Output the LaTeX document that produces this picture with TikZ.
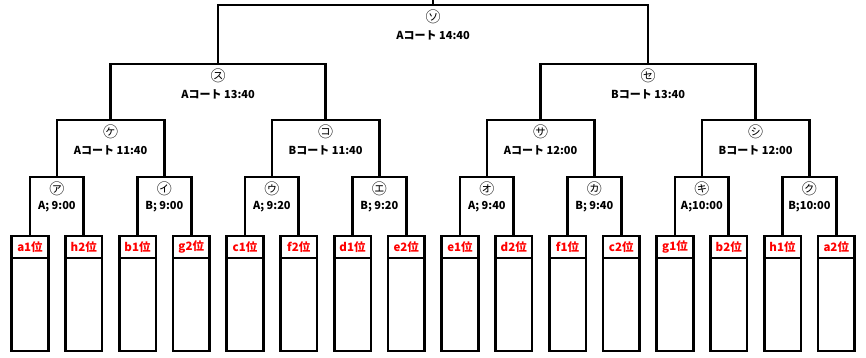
\documentclass[tikz,border=0pt]{standalone}
\usepackage{fontspec}
\setmainfont{Noto Sans CJK JP}
\begin{document}
\begin{tikzpicture}[x=1pt,y=-1pt,
  ln/.style={line width=2.6pt},
  box/.style={draw, line width=2.6pt, minimum width=36.6pt, minimum height=115pt, inner sep=0pt, outer sep=0pt, anchor=north},
  sep/.style={line width=1.8pt},
  rank/.style={font=\bfseries\fontsize{11.5}{11.5}\selectfont, text=red, inner sep=0pt},
  circ/.style={font=\fontsize{15}{15}\selectfont, inner sep=0pt},
  tm/.style={font=\bfseries\fontsize{11}{11}\selectfont, inner sep=0pt}]
\useasboundingbox (0,0) rectangle (866,358);
% boxes
\foreach \t [count=\i from 0] in {a1位,h2位,b1位,g2位,c1位,f2位,d1位,e2位,e1位,d2位,f1位,c2位,g1位,b2位,h1位,a2位} {
  \node[box] (b\i) at ({30+53.75*\i},236) {};
  \path (b\i.north) ++(0,11) node[rank] (h\i) {\t};
  \draw[sep] ([yshift=-22pt]b\i.north west) -- ([yshift=-22pt]b\i.north east);
}
% level 1
\foreach \c/\tm [count=\k from 0, evaluate=\k as \a using int(2*\k), evaluate=\k as \b using int(2*\k+1)] in {㋐/A; 9:00,㋑/B; 9:00,㋒/A; 9:20,㋓/B; 9:20,㋔/A; 9:40,㋕/B; 9:40,㋖/A;10:00,㋗/B;10:00} {
  \coordinate (p\k) at ({56.875+107.5*\k},177);
  \draw[ln] (b\a.north) |- (p\k) -| (b\b.north);
  \path (p\k) ++(0,11.5) node[circ] (cp\k) {\c};
  \path (p\k) ++(0,30) node[tm] (tp\k) {\tm};
}
% level 2
\foreach \c/\tm [count=\k from 0, evaluate=\k as \a using int(2*\k), evaluate=\k as \b using int(2*\k+1)] in {㋘/Aコート 11:40,㋙/Bコート 11:40,㋚/Aコート 12:00,㋛/Bコート 12:00} {
  \coordinate (q\k) at ({110.625+215*\k},120);
  \draw[ln] (p\a) |- (q\k) -| (p\b);
  \path (q\k) ++(0,11.5) node[circ] (cq\k) {\c};
  \path (q\k) ++(0,30) node[tm] (tq\k) {\tm};
}
% level 3
\foreach \c/\tm [count=\k from 0, evaluate=\k as \a using int(2*\k), evaluate=\k as \b using int(2*\k+1)] in {㋜/Aコート 13:40,㋝/Bコート 13:40} {
  \coordinate (r\k) at ({218.125+430*\k},64);
  \draw[ln] (q\a) |- (r\k) -| (q\b);
  \path (r\k) ++(0,11.5) node[circ] (cr\k) {\c};
  \path (r\k) ++(0,30) node[tm] (tr\k) {\tm};
}
% final
\coordinate (s) at (433.125,5);
\coordinate (top) at (433.125,-3);
\draw[ln] (r0) |- (s) -| (r1);
\draw[ln] (s) -- (top);
\path (s) ++(0,11.5) node[circ] (cs) {㋞};
\path (s) ++(0,30) node[tm] (ts) {Aコート 14:40};
\end{tikzpicture}
\end{document}
